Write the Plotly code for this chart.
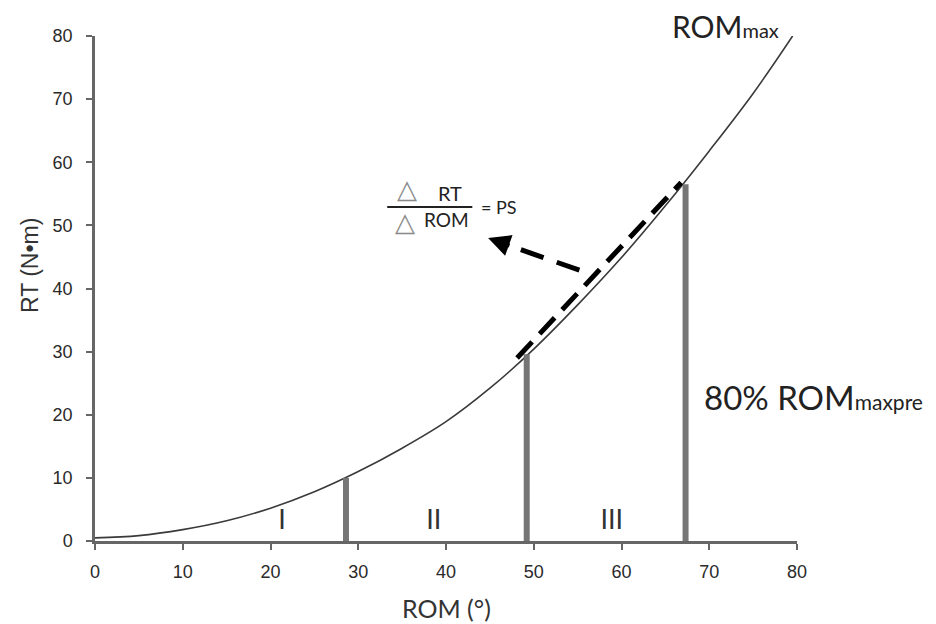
import plotly.graph_objects as go

# Curve (ROM vs RT)
rom = [0, 5, 10, 15, 20, 25, 30, 35, 40, 45, 50, 55, 60, 65, 70, 75, 79.5]
rt = [0.5, 0.85, 1.8, 3.2, 5.2, 7.8, 11.0, 14.7, 18.9, 24.2, 30.4, 37.4, 44.9, 53.1, 61.8, 70.9, 80]

# vertical bars
bar_x = [28.6, 49.2, 67.3]
bar_h = [10, 29.6, 56.5]

# dashed chord (PS)
chord_x = [48.1, 66.8]
chord_y = [29.0, 56.8]

# dashed arrow
arrow_x = [55.2, 47.4]
arrow_y = [42.9, 46.7]
arrow_tip = (44.8, 48.0)

# phase labels
phase_labels = ["I", "II", "III"]
phase_x = [21.3, 38.6, 58.9]
phase_y = [2.9, 2.9, 2.9]

xticks = [0, 10, 20, 30, 40, 50, 60, 70, 80]
yticks = [0, 10, 20, 30, 40, 50, 60, 70, 80]

fig = go.Figure()

fig.add_trace(go.Scatter(x=rom, y=rt, mode="lines", line=dict(color="#3a3a3a", width=1.6, shape="spline"),
                         hoverinfo="skip", showlegend=False))

bx, by = [], []
for x, h in zip(bar_x, bar_h):
    bx += [x, x, None]
    by += [0, h, None]
fig.add_trace(go.Scatter(x=bx, y=by, mode="lines", line=dict(color="#767676", width=6),
                         showlegend=False, hoverinfo="skip"))

fig.add_trace(go.Scatter(x=chord_x, y=chord_y, mode="lines",
                         line=dict(color="black", width=5, dash="22px,11px"),
                         showlegend=False, hoverinfo="skip"))
fig.add_trace(go.Scatter(x=arrow_x, y=arrow_y, mode="lines",
                         line=dict(color="black", width=5, dash="24px,14px"),
                         showlegend=False, hoverinfo="skip"))

fig.add_trace(go.Scatter(x=phase_x, y=phase_y, mode="text", text=phase_labels,
                         textfont=dict(family="Lato", size=27, color="#333333"),
                         showlegend=False, hoverinfo="skip"))

txt = "#222222"
annotations = [
    dict(x=arrow_tip[0], y=arrow_tip[1], ax=arrow_x[1], ay=arrow_y[1], axref="x", ayref="y",
         xref="x", yref="y", showarrow=True, arrowhead=2, arrowsize=1.1, arrowwidth=4,
         arrowcolor="black", text=""),
    dict(x=35.5, y=55.7, xref="x", yref="y", text="△", showarrow=False,
         font=dict(family="DejaVu Sans", size=26, color="#8a8a8a")),
    dict(x=35.3, y=50.5, xref="x", yref="y", text="△", showarrow=False,
         font=dict(family="DejaVu Sans", size=26, color="#8a8a8a")),
    dict(x=40.4, y=55.1, xref="x", yref="y", text="RT", showarrow=False,
         font=dict(family="Lato", size=20, color=txt)),
    dict(x=40.0, y=50.9, xref="x", yref="y", text="ROM", showarrow=False,
         font=dict(family="Lato", size=19, color=txt)),
    dict(x=43.8, y=52.9, xref="x", yref="y", text="= PS", showarrow=False, xanchor="left",
         font=dict(family="Lato", size=18, color=txt)),
    dict(x=0.819, y=1.02, xref="paper", yref="paper", xanchor="left", yanchor="middle",
         text="ROM<span style='font-size:20px'>max</span>", showarrow=False,
         font=dict(family="Lato", size=30, color=txt)),
    dict(x=0.865, y=0.285, xref="paper", yref="paper", xanchor="left", yanchor="middle",
         text="80% ROM<span style='font-size:21px'>maxpre</span>", showarrow=False,
         font=dict(family="Lato", size=33, color=txt)),
    # axis titles
    dict(x=0.501, y=-0.132, xref="paper", yref="paper", xanchor="center", yanchor="middle",
         text="ROM (°)", showarrow=False, font=dict(family="Lato", size=25, color="#333333")),
    dict(x=-0.0926, y=0.5465, xref="paper", yref="paper", xanchor="center", yanchor="middle",
         text="RT (N•m)", textangle=-90, showarrow=False,
         font=dict(family="Liberation Sans", size=23, color="#333333")),
]

shapes = [
    dict(type="line", xref="x", yref="y", x0=33.3, x1=43.0, y0=52.9, y1=52.9,
         line=dict(color="#222222", width=2)),
]

axis_common = dict(range=[0, 80], showgrid=False, zeroline=False, automargin=False,
                   showline=True, linecolor="#666666", linewidth=2.5,
                   ticks="outside", ticklen=6, tickcolor="#666666", tickwidth=2,
                   tickfont=dict(family="Liberation Sans", size=18, color="#2a2a2a"))

# page body adds an 8px offset, so the figure is 8px smaller than the window
fig.update_layout(
    width=928, height=616,
    margin=dict(l=87, r=139, t=28, b=83),
    paper_bgcolor="white", plot_bgcolor="white",
    annotations=annotations, shapes=shapes,
    showlegend=False,
    xaxis=dict(tickvals=xticks, ticklabelstandoff=7, **axis_common),
    yaxis=dict(tickvals=yticks, ticklabelstandoff=10, **axis_common),
)

fig.write_html("out.html")
